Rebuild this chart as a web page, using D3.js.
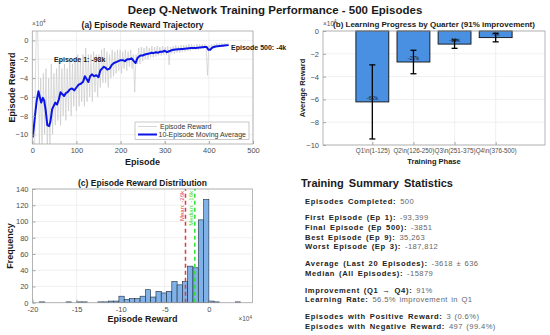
<!DOCTYPE html>
<head>
  <meta charset="utf-8">
  <script src="https://d3js.org/d3.v7.min.js"></script>
  <style>
  *{ margin:0; padding:0; }
  body{ background:#fff; font-family:'Liberation Sans', Arial, sans-serif; }
  text{ font-family:'Liberation Sans', Arial, sans-serif; }
  </style>
</head>
<body>
<svg id="viz" width="550" height="335"></svg>
<script>
    // ---- data (rewards in units of 1e4) ----
    // raw episode reward, every 3rd episode starting at ep 1
    let rawStep = 3;
    let rawVals = [
      -9.3, -18.8, -4.0, 3.5, -0.5, -11.5, -4.0, -11.0, -3.5, -10.0,
      -3.0, -12.0, -4.0, -11.0, -2.5, -10.0, -3.5, -9.0, -3.0, -8.5,
      -2.0, -9.0, -3.0, -8.0, -2.5, -8.5, -3.0, -7.5, -2.0, -8.0,
      -2.5, -7.0, -2.0, -7.5, -1.5, -7.0, -2.0, -6.5, -1.5, -7.0,
      -0.8, -6.5, -1.5, -6.0, -1.5, -6.5, -1.2, -5.5, -1.5, -6.0,
      -1.5, -5.0, -1.0, -4.5, -0.8, -4.5, -1.2, -5.0, -1.5, -4.0,
      -1.0, -3.8, -1.2, -3.5, -1.0, -3.2, -1.0, -3.5, -1.2, -3.0,
      -1.0, -3.2, -1.2, -2.8, -1.0, -3.0, -1.5, -5.5, -1.5, -2.5,
      -0.8, -2.5, -0.7, -2.2, -0.8, -2.0, -0.6, -2.0, -0.8, -1.8,
      -0.6, -1.8, -0.7, -1.7, -0.6, -1.6, -0.7, -1.6, -0.6, -1.5,
      -0.7, -1.5, -0.6, -2.6, -0.7, -1.4, -0.6, -1.4, -0.5, -1.3,
      -0.6, -1.3, -0.5, -1.2, -0.5, -1.2, -0.5, -1.1, -0.4, -1.1,
      -0.4, -1.0, -0.5, -1.0, -0.4, -1.0, -0.4, -0.9, -0.4, -0.9,
      -0.4, -0.9, -3.7, -0.5, -0.9, -0.4, -0.8, -0.4, -0.8, -0.3,
      -0.7, -0.3, -0.7, -0.3, -0.7, -0.3, -0.6, -0.3, -0.4
    ];

    // 10-episode moving average
    let maEp = [1,4,7,10,14,17,20,24,27,30,34,38,41,45,48,52,56,60,64,68,72,76,80,85,90,95,100,105,110,115,
      119,123,127,131,135,140,145,150,154,158,162,166,170,175,180,185,190,195,200,205,210,215,220,225,230,
      234,238,242,246,250,255,260,265,270,275,280,285,290,295,300,305,310,315,320,330,340,350,360,370,380,
      390,395,399,403,408,415,425,435,445];
    let maVal = [-10.3,-9.0,-7.6,-6.4,-5.4,-6.0,-6.6,-6.1,-6.4,-7.3,-9.0,-9.1,-8.6,-7.3,-7.0,-6.6,-6.8,-6.3,-5.5,-5.7,
      -5.9,-5.6,-5.5,-5.2,-5.1,-5.3,-5.0,-4.7,-4.6,-4.4,-3.8,-4.1,-4.4,-3.8,-3.6,-3.8,-3.7,-3.9,-3.2,-3.0,
      -2.8,-2.9,-3.1,-3.0,-2.6,-2.4,-2.3,-2.2,-2.1,-2.1,-2.2,-2.0,-2.0,-1.9,-2.2,-2.4,-1.9,-1.7,-1.6,-1.6,
      -1.5,-1.45,-1.4,-1.3,-1.35,-1.25,-1.3,-1.2,-1.2,-1.1,-1.25,-1.15,-1.05,-1.0,-0.95,-0.9,-0.85,-0.8,-0.8,-0.75,
      -0.7,-0.7,-1.0,-1.0,-0.75,-0.65,-0.6,-0.55,-0.5];

    // quarters
    let quarters = ['Q1\\n(1-125)', 'Q2\\n(126-250)', 'Q3\\n(251-375)', 'Q4\\n(376-500)'];
    let qMean = [-6.22, -2.72, -1.15, -0.58];
    let qStd = [3.25, 1.03, 0.37, 0.37];
    let qLabels = ['-62k', '-27k', '-11k', '-6k'];

    // histogram
    let binStart = -19.2, binWidth = 0.6;
    let histCounts = [1,0,0,0,0,1,0,1,1,0,0,1,1,2,2,8,4,5,5,8,16,7,14,12,14,26,22,26,45,43,102,127,2,1,0,0,0,1];
    let meanVal = -2.65, medianVal = -1.59;

    // summary
    let stats = [
      [['Episodes Completed:', '500']],
      [['First Episode (Ep 1):', '-93,399'], ['Final Episode (Ep 500):', '-3851'],
       ['Best Episode (Ep 9):', '35,263'], ['Worst Episode (Ep 3):', '-187,812']],
      [['Average (Last 20 Episodes):', '-3618 \u00b1 636'], ['Median (All Episodes):', '-15879']],
      [['Improvement (Q1 \u2192 Q4):', '91%'], ['Learning Rate:', '56.5% improvement in Q1']],
      [['Episodes with Positive Reward:', '3 (0.6%)'], ['Episodes with Negative Reward:', '497 (99.4%)']]
    ];

    let svg = d3.select('svg');
    let gridCol = '#e6e6e6', boxCol = '#a6a6a6', tickCol = '#4d4d4d';

    svg.append('text').attr('x', 275).attr('y', 14).attr('text-anchor', 'middle')
      .attr('font-size', 11.5).attr('font-weight', 'bold').attr('fill', '#1a1a1a')
      .text('Deep Q-Network Training Performance - 500 Episodes');

    // grid lines behind the marks
    function frame(x, y, xt, yt) {
      let g = svg.append('g');
      let [x0, x1] = x.range(), [y0, y1] = y.range();
      g.selectAll('.gx').data(xt).enter().append('line')
        .attr('x1', d => x(d)).attr('x2', d => x(d)).attr('y1', y0).attr('y2', y1)
        .attr('stroke', gridCol).attr('stroke-width', 0.6);
      g.selectAll('.gy').data(yt).enter().append('line')
        .attr('x1', x0).attr('x2', x1).attr('y1', d => y(d)).attr('y2', d => y(d))
        .attr('stroke', gridCol).attr('stroke-width', 0.6);
      return g;
    }
    function box(x, y) {
      let [x0, x1] = x.range(), [y0, y1] = y.range();
      svg.append('rect').attr('x', x0).attr('y', y1).attr('width', x1 - x0).attr('height', y0 - y1)
        .attr('fill', 'none').attr('stroke', boxCol).attr('stroke-width', 0.8);
    }
    function axes(x, y, xt, yt, xfmt, xsize) {
      let [x0, x1] = x.range(), [y0, y1] = y.range();
      let ax = svg.append('g').attr('transform', `translate(0,${y0})`)
        .call(d3.axisBottom(x).tickValues(xt).tickSize(-3).tickPadding(4).tickFormat(xfmt || (d => d)));
      let ay = svg.append('g').attr('transform', `translate(${x0},0)`)
        .call(d3.axisLeft(y).tickValues(yt).tickSize(-3).tickPadding(4));
      [ax, ay].forEach(a => {
        a.select('.domain').remove();
        a.selectAll('line').attr('stroke', boxCol);
        a.selectAll('text').attr('font-size', 7.5).attr('fill', tickCol)
          .attr('font-family', "'Liberation Sans', Arial, sans-serif");
      });
      if (xsize) ax.selectAll('text').attr('font-size', xsize);
      return [ax, ay];
    }
    function exp10(x, y, anchor) {
      let t = svg.append('text').attr('x', x).attr('y', y).attr('font-size', 6.5).attr('fill', tickCol)
        .attr('text-anchor', anchor || 'start');
      t.append('tspan').text('\u00d710');
      t.append('tspan').attr('dy', -2.5).attr('font-size', 4.5).text('4');
    }
    function label(txt, x, y, size, rot) {
      svg.append('text').attr('transform', `translate(${x},${y}) rotate(${rot || 0})`)
        .attr('text-anchor', 'middle').attr('font-size', size).attr('font-weight', 'bold')
        .attr('fill', '#1a1a1a').text(txt);
    }

    // ---- (a) trajectory ----
    let xa = d3.scaleLinear().domain([0, 500]).range([32.3, 253]);
    let ya = d3.scaleLinear().domain([-11, 1]).range([144, 31]);
    frame(xa, ya, d3.range(0, 501, 100), d3.range(-10, 1, 2));
    svg.append('clipPath').attr('id', 'clipA').append('rect')
      .attr('x', 32.3).attr('y', 31).attr('width', 253 - 32.3).attr('height', 113);
    let lineA = d3.line().x(d => xa(d[0])).y(d => ya(d[1]));
    let rawPts = rawVals.map((v, i) => [1 + i * rawStep, v]);
    svg.append('path').attr('clip-path', 'url(#clipA)').attr('d', lineA(rawPts))
      .attr('fill', 'none').attr('stroke', '#c4c4c4').attr('stroke-width', 0.6);
    svg.append('path').attr('clip-path', 'url(#clipA)').attr('d', lineA(maEp.map((e, i) => [e, maVal[i]])))
      .attr('fill', 'none').attr('stroke', '#0a14e6').attr('stroke-width', 2).attr('stroke-linejoin', 'round');
    axes(xa, ya, d3.range(0, 501, 100), d3.range(-10, 1, 2));
    box(xa, ya);
    exp10(32, 25.5);
    label('(a) Episode Reward Trajectory', 142.5, 27.5, 8.5);
    label('Episode', 142.5, 164.5, 9);
    label('Episode Reward', 15, 87.5, 9, -90);
    svg.append('text').attr('x', 54).attr('y', 62).attr('font-size', 7).attr('font-weight', 'bold')
      .attr('fill', '#1a1a1a').text('Episode 1: -98k');
    svg.append('text').attr('x', 231).attr('y', 50).attr('font-size', 7).attr('font-weight', 'bold')
      .attr('fill', '#1a1a1a').text('Episode 500: -4k');
    // legend
    let lg = svg.append('g');
    lg.append('rect').attr('x', 135).attr('y', 122).attr('width', 114).attr('height', 17.5)
      .attr('fill', '#fff').attr('stroke', boxCol).attr('stroke-width', 0.6);
    lg.append('line').attr('x1', 138).attr('x2', 157).attr('y1', 126.5).attr('y2', 126.5)
      .attr('stroke', '#c4c4c4').attr('stroke-width', 0.7);
    lg.append('line').attr('x1', 138).attr('x2', 157).attr('y1', 134.5).attr('y2', 134.5)
      .attr('stroke', '#0a14e6').attr('stroke-width', 2);
    lg.append('text').attr('x', 160).attr('y', 129).attr('font-size', 7).attr('fill', '#333').text('Episode Reward');
    lg.append('text').attr('x', 158.5).attr('y', 137).attr('font-size', 7).attr('fill', '#333').text('10-Episode Moving Average');

    // ---- (b) quarters ----
    let xb = d3.scaleLinear().domain([-0.2, 5.2]).range([323, 545]);
    let yb = d3.scaleLinear().domain([-10, 0]).range([145, 31]);
    frame(xb, yb, [1, 2, 3, 4], d3.range(-10, 1, 2));
    let bw = xb(0.8) - xb(0);
    svg.append('g').selectAll('rect').data(qMean).enter().append('rect')
      .attr('x', (d, i) => xb(i + 1) - bw / 2).attr('y', yb(0)).attr('width', bw)
      .attr('height', d => yb(d) - yb(0))
      .attr('fill', '#4a90e2').attr('stroke', '#111').attr('stroke-width', 0.9);
    let eb = svg.append('g');
    qMean.forEach((m, i) => {
      let cx = xb(i + 1);
      eb.append('line').attr('x1', cx).attr('x2', cx).attr('y1', yb(m + qStd[i])).attr('y2', yb(m - qStd[i]))
        .attr('stroke', '#000').attr('stroke-width', 1.3);
      [m + qStd[i], m - qStd[i]].forEach(v => eb.append('line').attr('x1', cx - 3).attr('x2', cx + 3)
        .attr('y1', yb(v)).attr('y2', yb(v)).attr('stroke', '#000').attr('stroke-width', 1.3));
      eb.append('text').attr('x', cx).attr('y', yb(m) - 2).attr('text-anchor', 'middle')
        .attr('font-size', 6).attr('fill', '#222').text(qLabels[i]);
    });
    axes(xb, yb, [1, 2, 3, 4], d3.range(-10, 1, 2), d => quarters[d - 1], 6.3);
    box(xb, yb);
    exp10(323, 25.5);
    label('(b) Learning Progress by Quarter (91% improvement)', 434, 27, 8);
    label('Training Phase', 434, 164, 7.5);
    label('Average Reward', 305, 88, 7.5, -90);

    // ---- (c) histogram ----
    let xc = d3.scaleLinear().domain([-20, 4.95]).range([32.5, 252.5]);
    let yc = d3.scaleLinear().domain([0, 140]).range([302.7, 189]);
    frame(xc, yc, d3.range(-20, 1, 5), d3.range(0, 141, 20));
    svg.append('g').selectAll('rect').data(histCounts).enter().append('rect')
      .attr('x', (d, i) => xc(binStart + i * binWidth))
      .attr('width', xc(binWidth) - xc(0))
      .attr('y', d => yc(d)).attr('height', d => yc(0) - yc(d))
      .attr('fill', '#80b2e8').attr('stroke', '#1c2a3c').attr('stroke-width', 0.6);
    [[meanVal, '#e0393e', 'Mean: -26k'], [medianVal, '#2ee02e', 'Median: -16k']].forEach(([v, c, t]) => {
      svg.append('line').attr('x1', xc(v)).attr('x2', xc(v)).attr('y1', yc(0)).attr('y2', yc(140))
        .attr('stroke', c).attr('stroke-width', 1.5).attr('stroke-dasharray', '4,3');
      svg.append('text').attr('transform', `translate(${xc(v) - 1.5},191) rotate(-90)`)
        .attr('text-anchor', 'end').attr('font-size', 6).attr('fill', c).text(t);
    });
    axes(xc, yc, d3.range(-20, 1, 5), d3.range(0, 141, 20));
    box(xc, yc);
    exp10(252, 321, 'end');
    label('(c) Episode Reward Distribution', 142.5, 186, 8.5);
    label('Episode Reward', 142.5, 321.5, 9);
    label('Frequency', 13, 246, 9, -90);

    // ---- summary text ----
    svg.append('text').attr('x', 301).attr('y', 187).attr('font-size', 11).attr('font-weight', 'bold')
      .attr('fill', '#1a1a1a').attr('word-spacing', 2).text('Training Summary Statistics');
    let yy = 203.5;
    stats.forEach(grp => {
      grp.forEach(([k, v]) => {
        let t = svg.append('text').attr('x', 305).attr('y', yy).attr('font-size', 7.6);
        t.append('tspan').attr('font-weight', 'bold').attr('fill', '#222').attr('letter-spacing', 0.65)
          .attr('word-spacing', 1.2).text(k + ' ');
        t.append('tspan').attr('fill', '#666').attr('letter-spacing', 0.4).attr('word-spacing', 1).text(v);
        yy += 9.6;
      });
      yy += 7.3;
    });
</script>
</body>
